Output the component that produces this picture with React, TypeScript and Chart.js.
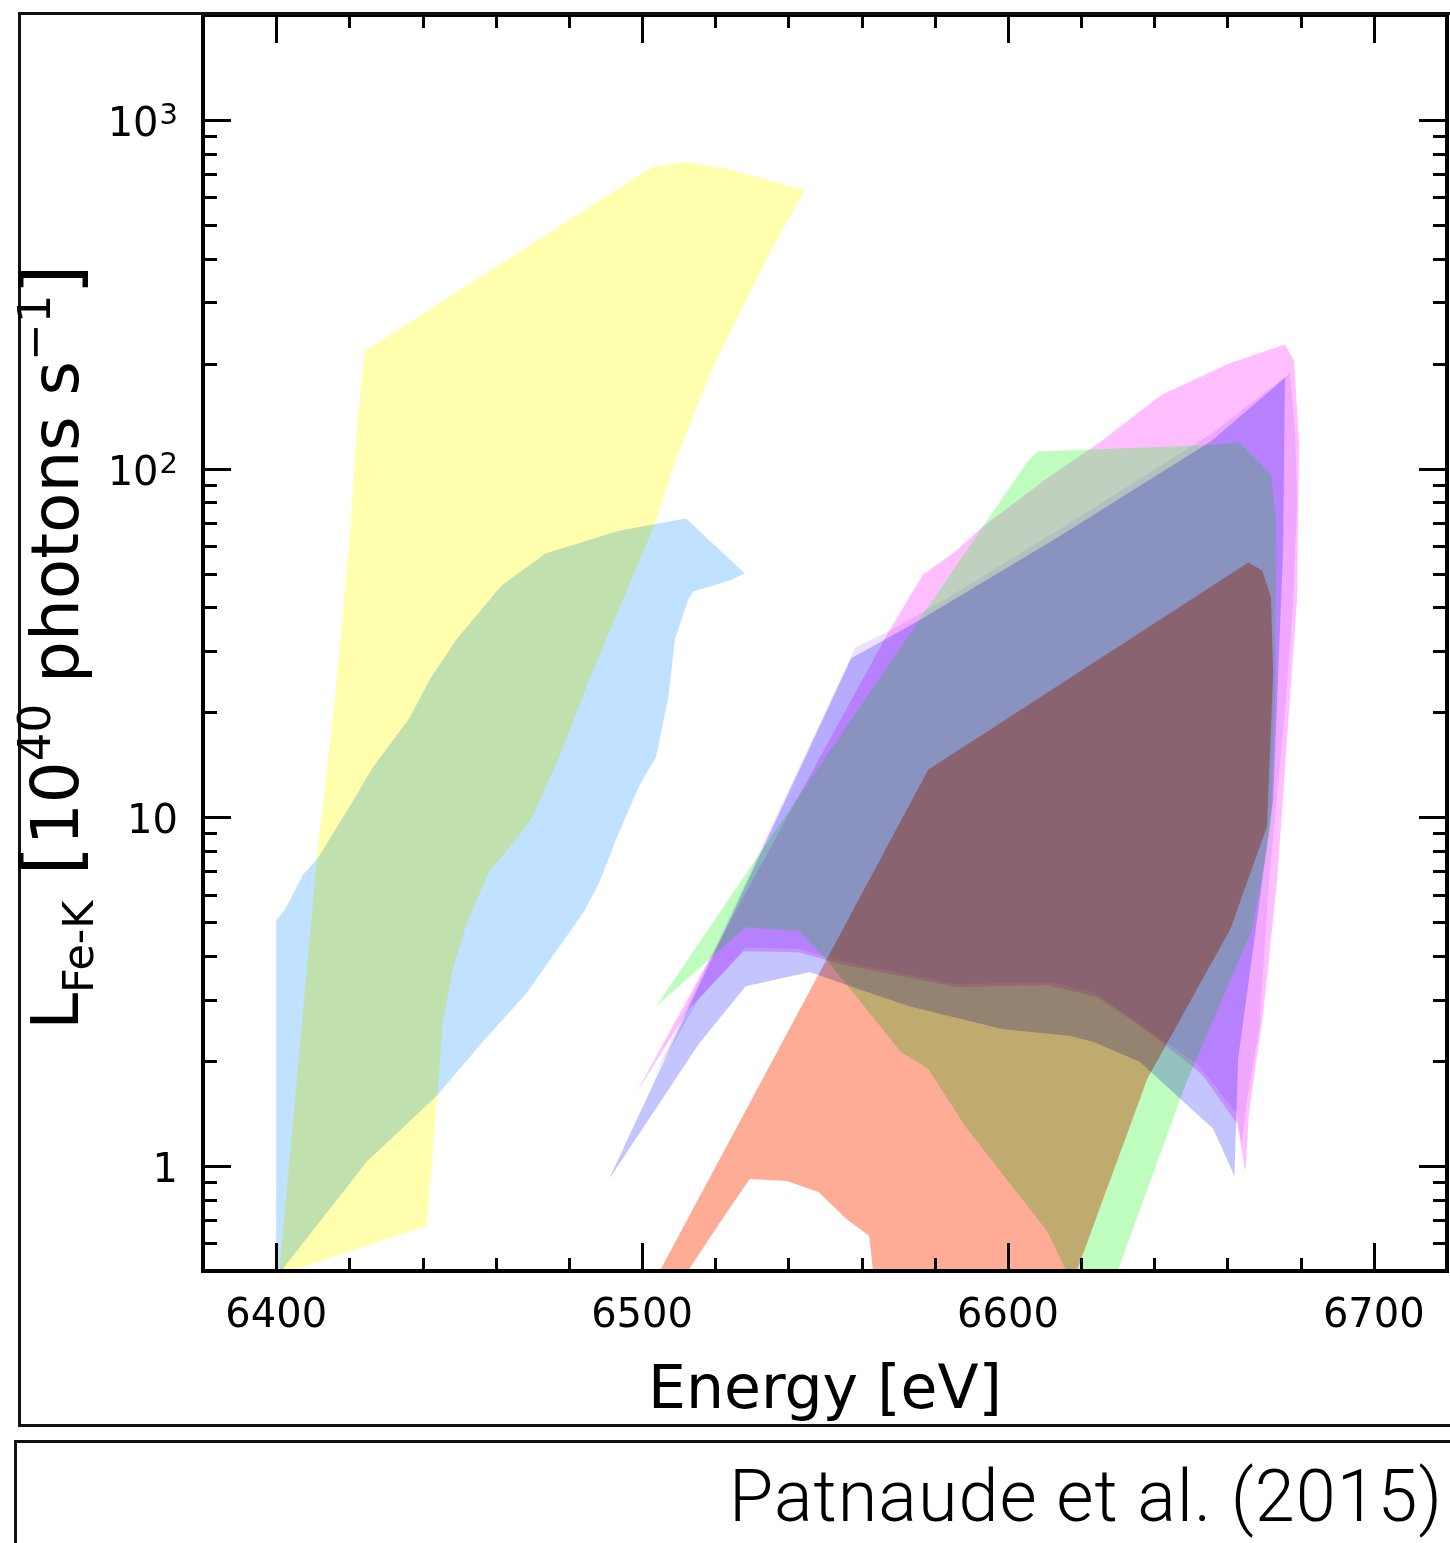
import React, { useEffect, useRef } from 'react';
import { Chart, registerables } from 'chart.js';

// Outlines of the allowed regions: energy (eV) and Fe-K luminosity (1e40 photons/s)
const yellowEnergy = [6424.3, 6502.7, 6512.0, 6523.2, 6540.3, 6544.7, 6534.1, 6519.1, 6509.0, 6503.8, 6485.6, 6477.4, 6470.0, 6464.6, 6458.3, 6452.0, 6448.2, 6445.5, 6444.1, 6441.1, 6404.6, 6400.8, 6411.2, 6416.1, 6420.2, 6422.1];
const yellowLum = [218, 733, 758, 724, 647, 634, 402, 193, 105, 70.5, 24.9, 14.9, 10.0, 8.37, 7.05, 4.94, 3.64, 2.57, 1.59, 0.673, 0.503, 0.49, 7.78, 22.2, 65.6, 133];

const blueEnergy = [6400, 6402.5, 6407.4, 6411.2, 6420.2, 6426.4, 6436.5, 6442.0, 6449.3, 6461.6, 6473.6, 6493.7, 6512.0, 6528.1, 6524.0, 6513.9, 6512.5, 6509.0, 6507.1, 6503.8, 6499.2, 6493.7, 6488.3, 6484.2, 6468.4, 6456.4, 6443.9, 6424.8, 6400];
const blueLum = [5.07, 5.45, 6.87, 7.58, 10.8, 13.9, 19.3, 24.9, 32.4, 46.2, 57.1, 66.4, 71.9, 50.0, 47.8, 44.4, 41.9, 32.4, 21.8, 14.9, 12.3, 9.06, 6.51, 5.38, 3.13, 2.27, 1.59, 1.03, 0.48];

const pinkEnergy = [6498.4, 6566.8, 6573.0, 6576.8, 6585.6, 6593.2, 6610.9, 6625.6, 6642.0, 6660.8, 6675.7, 6678.2, 6679.6, 6679.0, 6676.8, 6673.6, 6669.8, 6665.9, 6664.9, 6662.7, 6653.1, 6638.1, 6624.5, 6610.9, 6585.8, 6554.5, 6542.8, 6527.8, 6512.8];
const pinkLum = [1.62, 33.2, 42.7, 49.7, 57.8, 68.2, 94.2, 120, 163, 201, 227, 204, 117, 42.1, 20.0, 6.64, 2.76, 1.43, 0.961, 1.32, 1.83, 2.44, 3.05, 3.30, 3.26, 3.79, 4.10, 4.13, 2.82];

const purpleEnergy = [6503.3, 6558.3, 6567.3, 6583.7, 6613.1, 6655.6, 6677.1, 6678.5, 6679.0, 6678.0, 6675.7, 6671.4, 6668.7, 6665.4, 6663.8, 6662.7, 6651.8, 6636.0, 6623.4, 6610.9, 6585.8, 6554.5, 6542.8, 6528.3, 6515.5];
const purpleLum = [1.80, 30.7, 34.1, 42.7, 66.0, 126, 188, 127, 81.5, 42.1, 20.0, 6.64, 2.47, 1.56, 1.16, 1.41, 1.96, 2.55, 3.15, 3.37, 3.32, 3.87, 4.19, 4.24, 3.01];

const greenEnergy = [6503.8, 6527.0, 6594.3, 6605.7, 6608.2, 6655.6, 6663.2, 6671.9, 6673.3, 6673.0, 6671.9, 6666.8, 6648.5, 6629.7, 6616.3, 6610.9, 6588.3, 6578.2, 6570.8, 6550.7, 6542.8, 6528.3];
const greenLum = [2.87, 6.56, 71.0, 106, 112, 117, 119, 96.1, 71.0, 21.8, 9.42, 4.78, 1.71, 0.49, 0.49, 0.647, 1.30, 1.90, 2.12, 3.87, 4.71, 4.84];

const lavenderEnergy = [6491.0, 6557.2, 6575.7, 6613.1, 6655.6, 6675.7, 6675.2, 6672.5, 6667.0, 6662.9, 6661.9, 6656.1, 6647.1, 6636.0, 6623.4, 6617.2, 6598.4, 6573.3, 6559.1, 6545.8, 6528.3, 6515.5];
const lavenderLum = [0.918, 28.6, 36.7, 63.0, 120, 182, 58.6, 11.3, 4.19, 2.03, 0.936, 1.28, 1.56, 1.99, 2.27, 2.36, 2.47, 2.87, 3.22, 3.60, 3.28, 2.24];

const redEnergy = [6504.4, 6578.2, 6665.7, 6669.5, 6671.9, 6672.5, 6670.8, 6660.8, 6638.1, 6618.5, 6563.2, 6562.1, 6555.9, 6548.2, 6539.5, 6529.4, 6521.0, 6512.0];
const redLum = [0.49, 13.7, 53.8, 51.0, 42.7, 25.9, 9.42, 4.78, 1.78, 0.49, 0.49, 0.630, 0.705, 0.842, 0.906, 0.918, 0.682, 0.49];

// Axis ranges and tick marks
const energyRange = [6380, 6720];
const lumRange = [0.5, 2000];
const energyLabels = [6400, 6500, 6600, 6700];
const energyMinorStep = 20;
const lumLabels = [1, 10, 100, 1000];
const lumLabelBase = ['1', '10', '10', '10'];
const lumLabelExp = ['', '', '2', '3'];
const lumMantissas = [1, 2, 3, 4, 5, 6, 7, 8, 9];
const lumDecades = [0.1, 1, 10, 100, 1000];

const FONT = '"DejaVu Sans", sans-serif';

const closed = (xs: number[], ys: number[]) => {
  const pts = xs.map((x, i) => ({ x, y: ys[i] }));
  pts.push({ ...pts[0] });
  return pts;
};

// Sets a per-dataset composite mode before the filler paints it
const blendPlugin = {
  id: 'blendModes',
  beforeDatasetDraw(chart: any, args: any) {
    const ds = chart.data.datasets[args.index];
    chart.ctx.save();
    if (ds.blend) chart.ctx.globalCompositeOperation = ds.blend;
  },
  afterDatasetDraw(chart: any) {
    chart.ctx.restore();
  },
};

const whiteBackground = {
  id: 'whiteBackground',
  beforeDraw(chart: any) {
    const { ctx, width, height } = chart;
    ctx.save();
    ctx.fillStyle = '#fff';
    ctx.fillRect(0, 0, width, height);
    ctx.restore();
  },
};

Chart.register(blendPlugin, whiteBackground, ...registerables);

// Box frame with inward ticks on all four sides, plus the power-of-ten labels
const frameTicks = {
  id: 'frameTicks',
  afterDraw(chart: any) {
    const { ctx, chartArea: a, scales } = chart;
    const x = scales.x;
    const y = scales.y;
    ctx.save();
    ctx.strokeStyle = '#000';
    ctx.lineCap = 'butt';
    ctx.lineWidth = 3;
    const seg = (x0: number, y0: number, x1: number, y1: number) => {
      ctx.beginPath();
      ctx.moveTo(x0, y0);
      ctx.lineTo(x1, y1);
      ctx.stroke();
    };
    for (let e = energyRange[0] + energyMinorStep; e < energyRange[1]; e += energyMinorStep) {
      const px = Math.round(x.getPixelForValue(e)) + 0.5;
      const len = energyLabels.includes(e) ? 28 : 13;
      seg(px, a.bottom, px, a.bottom - len);
      seg(px, a.top, px, a.top + len);
    }
    for (const d of lumDecades) {
      for (const m of lumMantissas) {
        const v = m * d;
        if (v <= lumRange[0] * 1.001 || v >= lumRange[1] * 0.999) continue;
        const py = Math.round(y.getPixelForValue(v)) + 0.5;
        const len = m === 1 ? 28 : 14;
        seg(a.left, py, a.left + len, py);
        seg(a.right, py, a.right - len, py);
      }
    }
    ctx.lineWidth = 4;
    ctx.strokeRect(a.left, a.top, a.right - a.left, a.bottom - a.top);

    // y labels: mantissa text with a raised exponent
    ctx.fillStyle = '#000';
    ctx.textBaseline = 'alphabetic';
    const right = a.left - 25;
    lumLabels.forEach((v, i) => {
      const py = y.getPixelForValue(v);
      ctx.font = `29px ${FONT}`;
      const ew = lumLabelExp[i] ? ctx.measureText(lumLabelExp[i]).width + 1 : 0;
      if (ew) {
        ctx.textAlign = 'left';
        ctx.fillText(lumLabelExp[i], right - ew + 1, py + 4);
      }
      ctx.font = `40px ${FONT}`;
      ctx.textAlign = 'right';
      ctx.fillText(lumLabelBase[i], right - ew, py + 16);
    });
    ctx.restore();
  },
};

const region = (label: string, xs: number[], ys: number[], color: string, order: number, blend?: string) => ({
  label,
  data: closed(xs, ys),
  backgroundColor: color,
  borderColor: 'rgba(0,0,0,0)',
  borderWidth: 0,
  pointRadius: 0,
  fill: 'shape',
  order,
  blend,
});

export default function App() {
  const canvasRef = useRef<HTMLCanvasElement | null>(null);

  useEffect(() => {
    const canvas = canvasRef.current;
    if (!canvas) return;
    const chart = new Chart(canvas, {
      type: 'line',
      data: {
        datasets: [
          region('W7', redEnergy, redLum, 'rgb(255,172,150)', 1, 'multiply'),
          region('MCh-lavender', lavenderEnergy, lavenderLum, 'rgb(196,196,255)', 2, 'multiply'),
          region('MCh-green', greenEnergy, greenLum, 'rgba(50,250,50,0.31)', 3),
          region('MCh-purple', purpleEnergy, purpleLum, 'rgba(150,40,255,0.15)', 4),
          region('MCh-pink', pinkEnergy, pinkLum, 'rgba(255,40,255,0.30)', 5),
          region('CC-blue', blueEnergy, blueLum, 'rgb(192,225,255)', 6, 'multiply'),
          region('CC-yellow', yellowEnergy, yellowLum, 'rgba(255,255,0,0.32)', 7),
        ] as any,
      },
      options: {
        responsive: false,
        animation: false,
        devicePixelRatio: 1,
        events: [],
        layout: { padding: { top: 15, right: 3, left: 0, bottom: 0 } },
        plugins: { legend: { display: false }, tooltip: { enabled: false } },
        scales: {
          x: {
            type: 'linear',
            min: energyRange[0],
            max: energyRange[1],
            grid: { display: false, drawTicks: false },
            border: { display: false },
            afterBuildTicks: (s: any) => {
              s.ticks = energyLabels.map((v) => ({ value: v }));
            },
            afterFit: (s: any) => {
              s.height = 169;
              s.paddingLeft = 0;
              s.paddingRight = 0;
            },
            ticks: {
              font: { family: FONT, size: 40 },
              color: '#000',
              padding: 22,
              maxRotation: 0,
              autoSkip: false,
              callback: (v: any) => String(v),
            },
            title: {
              display: true,
              text: 'Energy [eV]',
              color: '#000',
              font: { family: FONT, size: 60 },
              padding: { top: 0, bottom: 12 },
            },
          },
          y: {
            type: 'logarithmic',
            min: lumRange[0],
            max: lumRange[1],
            grid: { display: false, drawTicks: false },
            border: { display: false },
            afterBuildTicks: (s: any) => {
              s.ticks = lumLabels.map((v) => ({ value: v }));
            },
            afterFit: (s: any) => {
              s.width = 203;
              s.paddingTop = 0;
              s.paddingBottom = 0;
            },
            ticks: { display: false },
          },
        },
      },
      plugins: [frameTicks],
    } as any);
    return () => chart.destroy();
  }, []);

  const sub = { fontSize: 43, verticalAlign: '-0.35em' };
  const sup = { fontSize: 45, verticalAlign: '0.62em' };
  const bracket = { fontSize: 78 };

  return (
    <div
      style={{
        position: 'absolute',
        left: 0,
        top: 0,
        width: 1450,
        height: 1543,
        overflow: 'hidden',
        background: '#fff',
      }}
    >
      <canvas
        ref={canvasRef}
        width={1450}
        height={1440}
        style={{ position: 'absolute', left: 0, top: 0, width: 1450, height: 1440 }}
      />
      <div
        style={{
          position: 'absolute',
          left: 18,
          top: 12,
          width: 1450,
          height: 1415,
          border: '3px solid #111',
          boxSizing: 'border-box',
          pointerEvents: 'none',
        }}
      />
      <div
        style={{
          position: 'absolute',
          left: 14,
          top: 1440,
          width: 1460,
          height: 200,
          border: '3px solid #111',
          boxSizing: 'border-box',
        }}
      />
      <div
        style={{
          position: 'absolute',
          left: 56,
          top: 647,
          transform: 'translate(-50%, -50%) rotate(-90deg)',
          fontFamily: FONT,
          fontSize: 66,
          lineHeight: 1,
          whiteSpace: 'nowrap',
          color: '#000',
        }}
      >
        L<span style={sub}>Fe-K</span>
        <span style={bracket}> [</span>10<span style={sup}>40</span> photons s<span style={sup}>−1</span>
        <span style={bracket}>]</span>
      </div>
      <div
        style={{
          position: 'absolute',
          right: 7,
          top: 1461,
          fontFamily: 'Roboto, "Liberation Sans", sans-serif',
          fontWeight: 300,
          fontSize: 72,
          letterSpacing: 1,
          lineHeight: 1,
          whiteSpace: 'nowrap',
          color: '#000',
        }}
      >
        Patnaude et al. (2015)
      </div>
    </div>
  );
}
